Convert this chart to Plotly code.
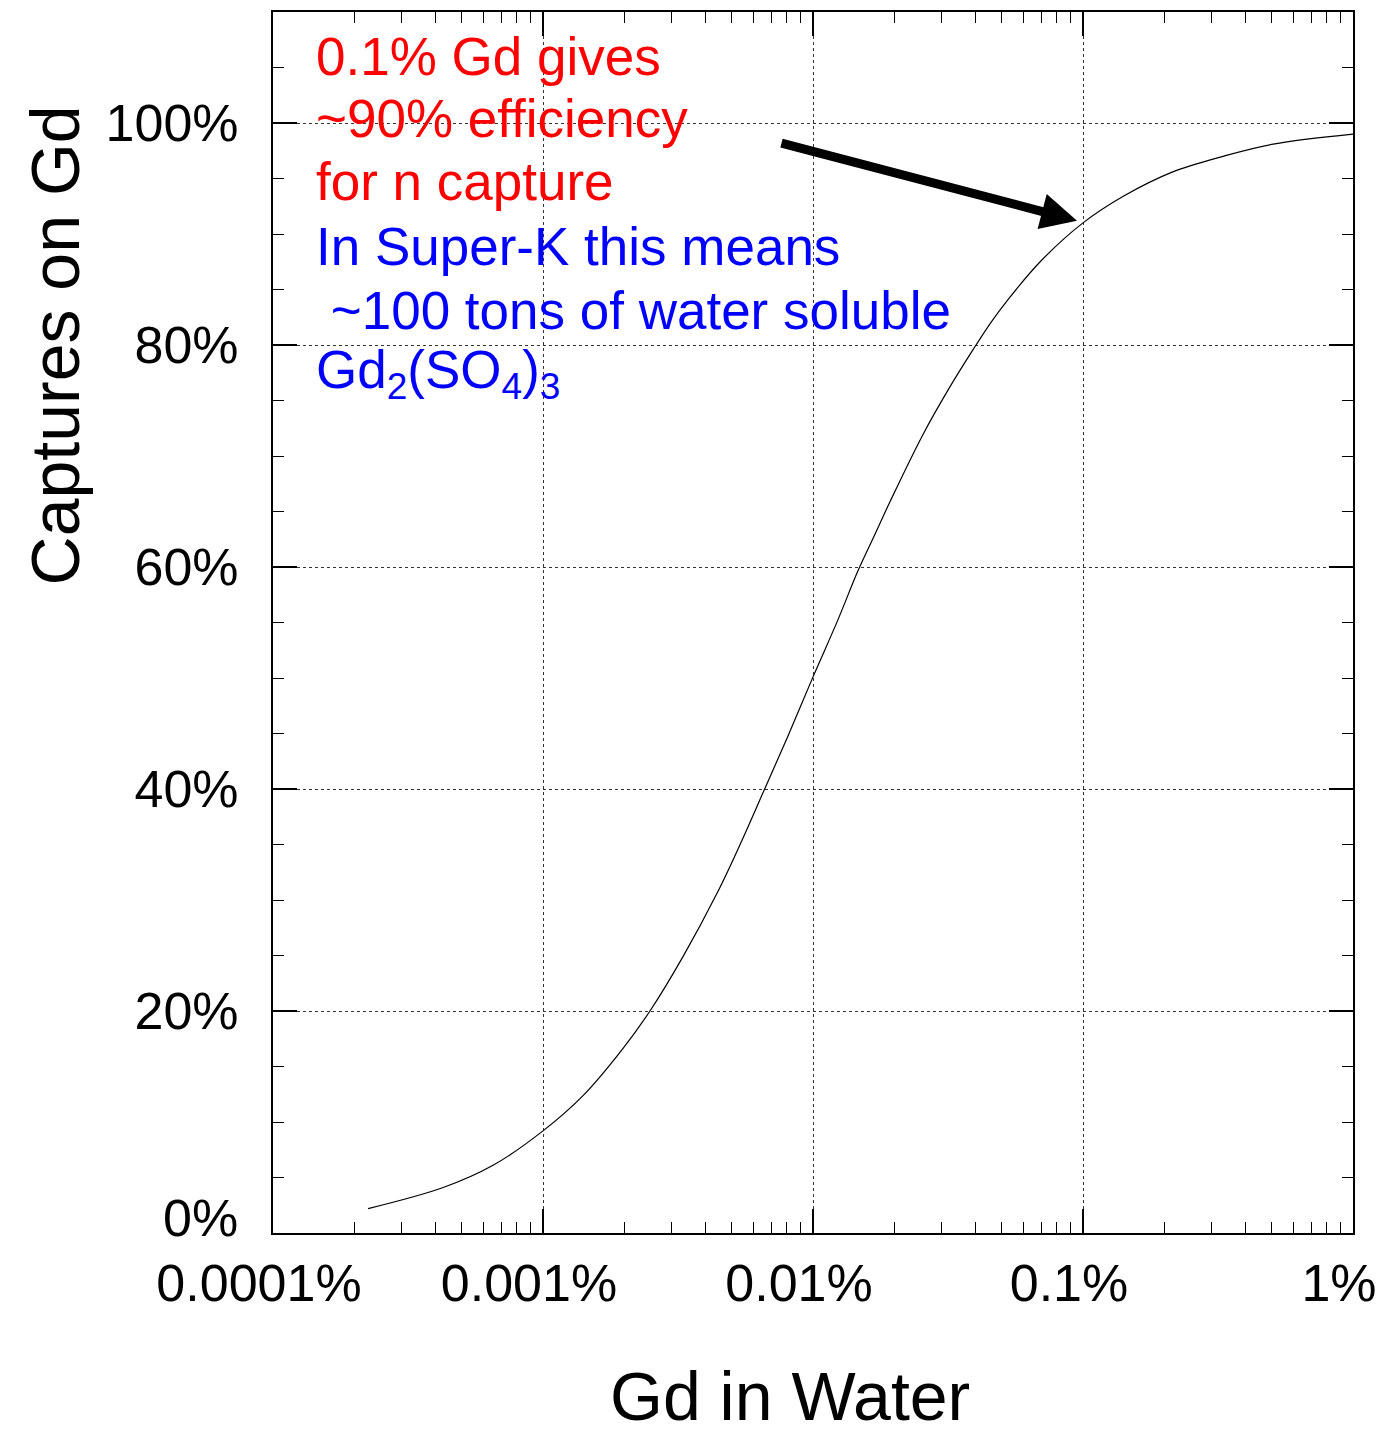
import plotly.graph_objects as go
import math

# Gd concentration in water (%)
gd_percent = [0.000225, 0.000427, 0.000653, 0.001, 0.00141, 0.00196, 0.00249,
              0.00330, 0.00441, 0.00537, 0.00654, 0.00802, 0.0100, 0.0123, 0.0147,
              0.0170, 0.0193, 0.0255, 0.0321, 0.0392, 0.0455, 0.0524, 0.0694, 0.100,
              0.141, 0.215, 0.330, 0.506, 1.0]
# Fraction of neutron captures on Gd (%)
captures = [2.2, 4.1, 6.1, 9.2, 12.4, 16.5, 20.0,
            24.9, 30.6, 35.0, 39.7, 44.6, 50.1, 55.1, 59.7,
            63.0, 65.9, 71.9, 76.2, 79.6, 82.0, 84.0, 87.5, 91.0,
            93.4, 95.6, 97.0, 98.1, 99.0]

x_tick_vals = [0.0001, 0.001, 0.01, 0.1, 1]
x_tick_text = ["0.0001%", "0.001%", "0.01%", "0.1%", "1%"]
y_tick_vals = [0, 20, 40, 60, 80, 100]
y_tick_text = ["", "20%", "40%", "60%", "80%", "100%"]
y_zero_label = "0%"

red_lines = ["0.1% Gd gives", "~90% efficiency", "for n capture"]
blue_lines = ["In Super-K this means", "\u00a0~100 tons of water soluble",
              "Gd<sub>2</sub>(SO<sub>4</sub>)<sub>3</sub>"]

FONT = "Liberation Sans, Arial, sans-serif"

fig = go.Figure()
fig.add_trace(go.Scatter(x=gd_percent, y=captures, mode="lines",
                         line=dict(color="black", width=1.2, shape="spline", smoothing=1.0),
                         showlegend=False, hoverinfo="skip"))

axis_common = dict(showline=True, linecolor="black", linewidth=2, mirror="allticks",
                   ticks="inside", tickcolor="black", tickwidth=1.5, ticklen=24,
                   showgrid=True, gridcolor="#333333", gridwidth=1, griddash="dot",
                   zeroline=False, tickfont=dict(family=FONT, size=52, color="black"))

fig.update_xaxes(type="log", range=[-4, 0], tickvals=x_tick_vals, ticktext=x_tick_text,
                 minor=dict(ticks="inside", ticklen=11, tickcolor="black", tickwidth=1.2,
                            dtick="D1", showgrid=False),
                 ticklabelstandoff=4, ticklabelshift=-14, **axis_common)
fig.update_yaxes(range=[0, 110], tickvals=y_tick_vals, ticktext=y_tick_text,
                 minor=dict(ticks="inside", ticklen=11, tickcolor="black", tickwidth=1.2,
                            dtick=5, showgrid=False),
                 ticklabelstandoff=22, **axis_common)

annotations = []
line_centers_px = [55, 117, 180, 245, 309, 372]
plot_top, plot_bottom, plot_left, plot_right = 10, 1233, 273, 1353
ph = plot_bottom - plot_top
pw = plot_right - plot_left

for i, txt in enumerate(red_lines + blue_lines):
    color = "#ff0000" if i < 3 else "#0000ff"
    annotations.append(dict(text=txt, xref="paper", yref="paper",
                            x=(314 - plot_left) / pw,
                            y=(plot_bottom - line_centers_px[i]) / ph,
                            xanchor="left", yanchor="middle", showarrow=False,
                            font=dict(family=FONT, size=53, color=color)))

# the 0% label sits a little above the bottom axis, as in the original
annotations.append(dict(text=y_zero_label, xref="paper", yref="y",
                        x=(240 - plot_left) / pw, y=0, yshift=15,
                        xanchor="right", yanchor="middle", showarrow=False,
                        font=dict(family=FONT, size=52, color="black")))

# axis titles
annotations.append(dict(text="Captures on Gd", xref="paper", yref="paper",
                        x=(55 - plot_left) / pw, y=(plot_bottom - 344) / ph,
                        xanchor="center", yanchor="middle", textangle=-90, showarrow=False,
                        font=dict(family=FONT, size=68, color="black")))
annotations.append(dict(text="Gd in Water", xref="paper", yref="paper",
                        x=(790 - plot_left) / pw, y=(plot_bottom - 1396) / ph,
                        xanchor="center", yanchor="middle", showarrow=False,
                        font=dict(family=FONT, size=68, color="black")))

# arrow pointing at the 0.1% point on the curve
annotations.append(dict(text="", x=math.log10(0.095), y=91.2, xref="x", yref="y",
                        showarrow=True, arrowhead=2, arrowsize=0.8, arrowwidth=9,
                        arrowcolor="black", ax=-297, ay=-78, axref="pixel", ayref="pixel",
                        standoff=0))

fig.update_layout(width=1400, height=1430, margin=dict(l=273, r=47, t=10, b=197),
                  paper_bgcolor="white", plot_bgcolor="white",
                  annotations=annotations, showlegend=False)

fig.write_html("out.html")
